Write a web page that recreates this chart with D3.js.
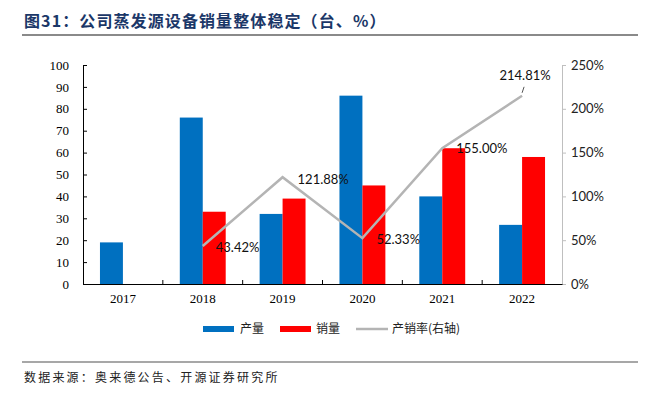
<!DOCTYPE html>
<html>
<head>
<meta charset="utf-8">
<script src="https://cdn.jsdelivr.net/npm/d3@7"></script>
<style>
  body { margin: 0; background: #fff; }
  svg { display: block; }
</style>
</head>
<body>
<div id="chart"></div>
<script>
const years = ['2017', '2018', '2019', '2020', '2021', '2022'];
const output = [19, 76, 32, 86, 40, 27];      // 产量
const sales = [null, 33, 39, 45, 62, 58];     // 销量
const ratio = [null, 0.4342, 1.2188, 0.5233, 1.55, 2.1481]; // 产销率
const leftTicks = [0, 10, 20, 30, 40, 50, 60, 70, 80, 90, 100];
const rightTicks = [0, 0.5, 1, 1.5, 2, 2.5];

const W = 648, H = 397;
const margin = { t: 65, r: 86, b: 113, l: 83 };
const innerW = W - margin.l - margin.r;
const innerH = H - margin.t - margin.b;

const serif = '"Liberation Serif", "Times New Roman", serif';
const sans = 'Lato, "Liberation Sans", sans-serif';
const cjk = '"Noto Sans CJK SC", sans-serif';

const svg = d3.select('#chart').append('svg')
  .attr('width', W)
  .attr('height', H);

// title
svg.append('text')
  .attr('x', 24)
  .attr('y', 27)
  .style('font-family', cjk)
  .style('font-weight', 'bold')
  .style('font-size', '16px')
  .style('letter-spacing', '1.1px')
  .style('fill', '#1b3768')
  .text('图31：公司蒸发源设备销量整体稳定（台、%）');

svg.append('line')
  .attr('x1', 22).attr('x2', 638)
  .attr('y1', 35).attr('y2', 35)
  .style('stroke', '#8a8a8a')
  .style('stroke-width', 2);

const plot = svg.append('g')
  .attr('transform', `translate(${margin.l}, ${margin.t})`);

const x0 = d3.scaleBand().domain(years).range([0, innerW]).paddingInner(0.425).paddingOuter(0.2125);
const x1 = d3.scaleBand().domain(['p', 's']).range([0, x0.bandwidth()]);
const y = d3.scaleLinear().domain([0, 100]).range([innerH, 0]);
const y2 = d3.scaleLinear().domain([0, 2.5]).range([innerH, 0]);

// bars
const groups = plot.selectAll('.year')
  .data(years)
  .enter().append('g')
  .attr('class', 'year')
  .attr('transform', d => `translate(${x0(d)}, 0)`);

groups.append('rect')
  .attr('x', x1('p'))
  .attr('width', x1.bandwidth())
  .attr('y', (d, i) => y(output[i]))
  .attr('height', (d, i) => innerH - y(output[i]))
  .style('fill', '#0070c0');

groups.filter((d, i) => sales[i] != null)
  .append('rect')
  .attr('x', x1('s'))
  .attr('width', x1.bandwidth())
  .attr('y', d => y(sales[years.indexOf(d)]))
  .attr('height', d => innerH - y(sales[years.indexOf(d)]))
  .style('fill', '#ff0000');

// left axis
const axisL = plot.append('g')
  .call(d3.axisLeft(y).tickValues(leftTicks).tickSizeInner(-4).tickSizeOuter(0).tickPadding(14));
axisL.select('.domain').style('stroke', '#000');
axisL.selectAll('.tick line').style('stroke', '#000');
axisL.selectAll('text').style('font-family', serif).style('font-size', '13px').style('fill', '#000');

// right axis
const axisR = plot.append('g')
  .attr('transform', `translate(${innerW}, 0)`)
  .call(d3.axisRight(y2).tickValues(rightTicks).tickSize(4).tickSizeOuter(0).tickPadding(5)
    .tickFormat(d => Math.round(d * 100) + '%'));
axisR.select('.domain').style('stroke', '#bfbfbf');
axisR.selectAll('.tick line').style('stroke', '#bfbfbf');
axisR.selectAll('text').style('font-family', sans).style('font-size', '13px').style('fill', '#222');

// x axis
const axisX = plot.append('g')
  .attr('transform', `translate(0, ${innerH})`)
  .call(d3.axisBottom(x0).tickSize(0).tickPadding(10));
axisX.select('.domain').style('stroke', '#000');
axisX.selectAll('text').style('font-family', serif).style('font-size', '13px').style('fill', '#000');

// category boundary ticks
const step = x0.step();
plot.selectAll('.xtick')
  .data(years.slice(1))
  .enter().append('line')
  .attr('x1', d => x0(d) + x0.bandwidth() / 2 - step / 2)
  .attr('x2', d => x0(d) + x0.bandwidth() / 2 - step / 2)
  .attr('y1', innerH)
  .attr('y2', innerH - 4)
  .style('stroke', '#000');

// ratio line
const pts = years.map((d, i) => ({ year: d, v: ratio[i] })).filter(d => d.v != null);
const cx = d => x0(d.year) + x0.bandwidth() / 2;

plot.append('path')
  .datum(pts)
  .attr('d', d3.line().x(cx).y(d => y2(d.v)))
  .style('fill', 'none')
  .style('stroke', '#b4b4b4')
  .style('stroke-width', 2.5);

// labels
const labelOff = {
  '2018': [13, 6, 'start'],
  '2019': [15, 7, 'start'],
  '2020': [14, 6, 'start'],
  '2021': [14, 5, 'start'],
  '2022': [3, -16, 'middle']
};
plot.selectAll('.lbl')
  .data(pts)
  .enter().append('text')
  .attr('x', d => cx(d) + labelOff[d.year][0])
  .attr('y', d => y2(d.v) + labelOff[d.year][1])
  .attr('text-anchor', d => labelOff[d.year][2])
  .style('font-family', sans)
  .style('font-size', '13px')
  .style('fill', '#111')
  .text(d => (d.v * 100).toFixed(2) + '%');

// leader line for last label
const last = pts[pts.length - 1];
plot.append('line')
  .attr('x1', cx(last)).attr('y1', y2(last.v) - 3)
  .attr('x2', cx(last) + 2).attr('y2', y2(last.v) - 9)
  .style('stroke', '#555')
  .style('stroke-width', 1);

// legend
const legend = svg.append('g').attr('transform', 'translate(203, 329)');
legend.append('rect').attr('x', 0).attr('y', -3).attr('width', 31).attr('height', 6).style('fill', '#0070c0');
legend.append('text').attr('x', 37).attr('y', 4).text('产量');
legend.append('rect').attr('x', 77).attr('y', -3).attr('width', 31).attr('height', 6).style('fill', '#ff0000');
legend.append('text').attr('x', 113).attr('y', 4).text('销量');
legend.append('line').attr('x1', 153).attr('x2', 185).attr('y1', 0).attr('y2', 0)
  .style('stroke', '#b4b4b4').style('stroke-width', 2.5);
legend.append('text').attr('x', 189).attr('y', 4).text('产销率(右轴)');
legend.selectAll('text')
  .style('font-family', cjk)
  .style('font-size', '12px')
  .style('fill', '#222');

// footer
svg.append('line')
  .attr('x1', 22).attr('x2', 638)
  .attr('y1', 362).attr('y2', 362)
  .style('stroke', '#8a8a8a')
  .style('stroke-width', 1.5);

svg.append('text')
  .attr('x', 24)
  .attr('y', 382)
  .style('font-family', cjk)
  .style('font-size', '12px')
  .style('letter-spacing', '2.2px')
  .style('fill', '#222')
  .text('数据来源：奥来德公告、开源证券研究所');
</script>
</body>
</html>
